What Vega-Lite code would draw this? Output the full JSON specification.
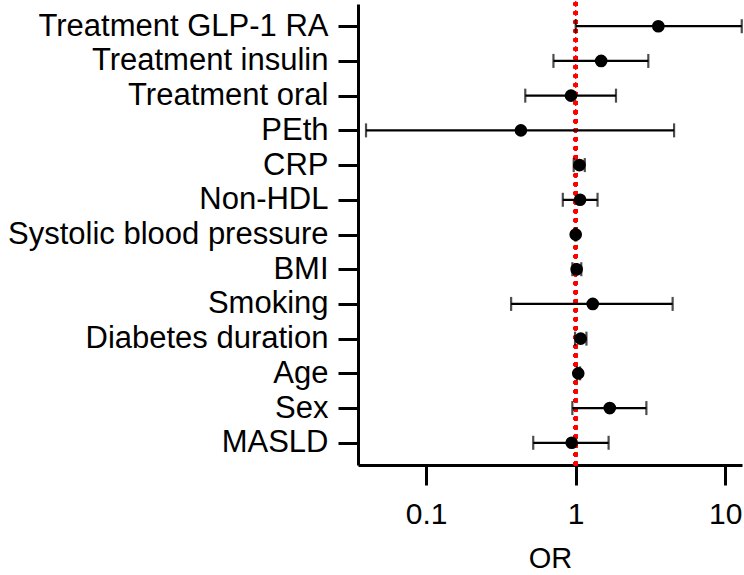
{
  "$schema": "https://vega.github.io/schema/vega-lite/v6.json",
  "autosize": {"type": "none"},
  "width": 384,
  "height": 461,
  "padding": {"left": 358, "top": 4, "right": 2, "bottom": 110},
  "background": "white",
  "config": {
    "view": {"stroke": null},
    "font": "Liberation Sans"
  },
  "data": {
    "values": [
      {"label": "Treatment GLP-1 RA", "or": 3.57, "lo": 1.0, "hi": 12.9},
      {"label": "Treatment insulin", "or": 1.48, "lo": 0.71, "hi": 3.06},
      {"label": "Treatment oral", "or": 0.93, "lo": 0.46, "hi": 1.86},
      {"label": "PEth", "or": 0.43, "lo": 0.0396, "hi": 4.55},
      {"label": "CRP", "or": 1.06, "lo": 0.97, "hi": 1.15},
      {"label": "Non-HDL", "or": 1.07, "lo": 0.82, "hi": 1.4},
      {"label": "Systolic blood pressure", "or": 1.0, "lo": 0.99, "hi": 1.01},
      {"label": "BMI", "or": 1.015, "lo": 0.95, "hi": 1.09},
      {"label": "Smoking", "or": 1.3, "lo": 0.37, "hi": 4.45},
      {"label": "Diabetes duration", "or": 1.08, "lo": 0.99, "hi": 1.18},
      {"label": "Age", "or": 1.04, "lo": 1.02, "hi": 1.07},
      {"label": "Sex", "or": 1.69, "lo": 0.95, "hi": 2.97},
      {"label": "MASLD", "or": 0.94, "lo": 0.52, "hi": 1.66}
    ]
  },
  "encoding": {
    "y": {
      "field": "label",
      "type": "nominal",
      "sort": null,
      "scale": {"type": "point", "padding": 0.64},
      "axis": {
        "title": null,
        "domainColor": "black",
        "domainWidth": 3,
        "tickColor": "black",
        "tickWidth": 3,
        "tickSize": 20,
        "labelFontSize": 31,
        "labelColor": "black",
        "labelPadding": 10,
        "labelLimit": 400,
        "grid": false
      }
    }
  },
  "layer": [
    {
      "mark": {"type": "rule", "color": "#ff0000", "strokeWidth": 4.5, "strokeDash": [0.01, 9], "strokeCap": "round"},
      "encoding": {
        "x": {"datum": 1, "type": "quantitative"},
        "y": null
      }
    },
    {
      "mark": {"type": "rule", "color": "black", "strokeWidth": 2.2},
      "encoding": {
        "x": {
          "field": "lo",
          "type": "quantitative",
          "scale": {"type": "log", "domain": [0.035, 12.95], "nice": false, "zero": false},
          "axis": {
            "title": "OR",
            "values": [0.1, 1, 10],
            "format": "~g",
            "grid": false,
            "domainColor": "black",
            "domainWidth": 3,
            "tickColor": "black",
            "tickWidth": 3,
            "tickSize": 20,
            "labelFontSize": 30,
            "labelColor": "black",
            "labelPadding": 14,
            "labelFlush": false,
            "titleFontSize": 29,
            "titleFontWeight": "normal",
            "titleColor": "black",
            "titleBaseline": "alphabetic",
            "titleY": 102
          }
        },
        "x2": {"field": "hi"}
      }
    },
    {
      "mark": {"type": "tick", "color": "black", "thickness": 2.2, "size": 14, "orient": "vertical"},
      "encoding": {"x": {"field": "lo", "type": "quantitative"}}
    },
    {
      "mark": {"type": "tick", "color": "black", "thickness": 2.2, "size": 14, "orient": "vertical"},
      "encoding": {"x": {"field": "hi", "type": "quantitative"}}
    },
    {
      "mark": {"type": "point", "shape": "circle", "filled": true, "color": "black", "opacity": 1, "size": 160},
      "encoding": {"x": {"field": "or", "type": "quantitative"}}
    }
  ]
}
